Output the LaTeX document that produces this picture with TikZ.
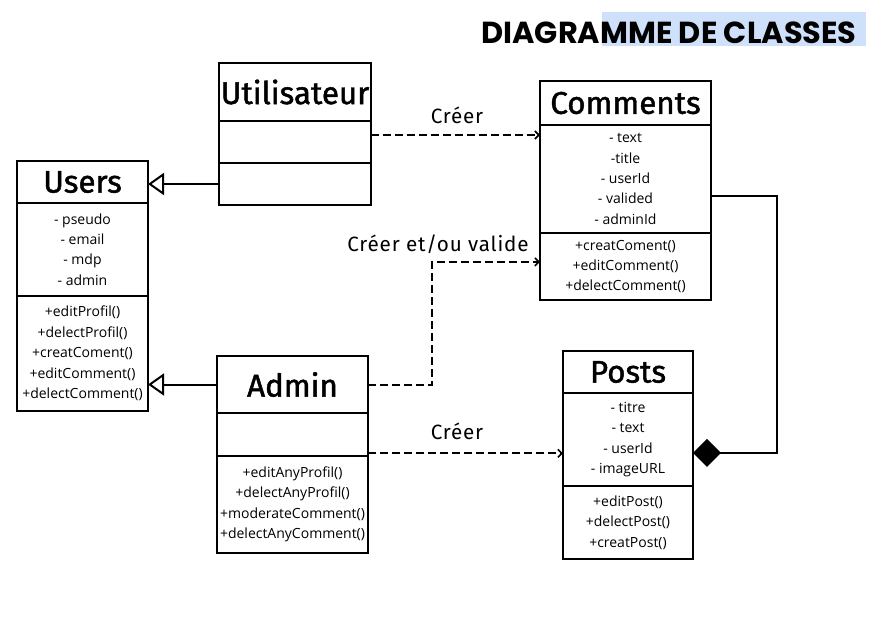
\documentclass[tikz,border=0pt]{standalone}
\usepackage{fontspec}
\setmainfont{Open Sans}
\newfontfamily\clsfont[FakeBold=1.5]{Fira Sans}
\newfontfamily\lblfont[LetterSpace=4]{Fira Sans}
\newfontfamily\titlefont{Poppins}
\usetikzlibrary{arrows.meta,calc}
\definecolor{hl}{RGB}{207,224,251}
\def\pxu{0.75pt}
\tikzset{
  box/.style={draw, line width=1.5pt, rectangle, inner sep=0pt, outer sep=0pt, align=center},
  hdr/.style={box, font=\clsfont\fontsize{23.5}{25}\selectfont},
  cmp/.style={box, font=\fontsize{10.5}{15.3}\selectfont},
  inh/.style={line width=1.5pt, -{Triangle[open, length=12pt, width=16.5pt, line width=1.5pt]}},
  dep/.style={line width=1.5pt, dash pattern=on 6pt off 3pt, -{Straight Barb[length=3pt, width=6pt, line width=1.2pt]}},
  comp/.style={line width=1.5pt, -{Diamond[length=21pt, width=21pt]}},
  lbl/.style={font=\lblfont\fontsize{15.5}{17}\selectfont, inner sep=0pt}
}
\begin{document}
\begin{tikzpicture}[x=0.75pt, y=-0.75pt]
\useasboundingbox (0,0) rectangle (875,617);
% title
\fill[hl] (602,12) rectangle (866,46);
\node[font=\titlefont\bfseries\fontsize{22.8}{25}\selectfont, inner sep=0pt] (title) at (669,33) {DIAGRAMME DE CLASSES};
% Utilisateur
\node[hdr, minimum width=152*\pxu, minimum height=58*\pxu, anchor=north west] (utilH) at (219,63) {Utilisateur};
\node[cmp, minimum width=152*\pxu, minimum height=42*\pxu, anchor=north] (utilA) at (utilH.south) {};
\node[cmp, minimum width=152*\pxu, minimum height=42*\pxu, anchor=north] (utilM) at (utilA.south) {};
% Users
\node[hdr, minimum width=131*\pxu, minimum height=42*\pxu, anchor=north west] (usersH) at (17,161) {Users};
\node[cmp, minimum width=131*\pxu, minimum height=93*\pxu, anchor=north] (usersA) at (usersH.south) {- pseudo\\- email\\- mdp\\- admin};
\node[cmp, minimum width=131*\pxu, minimum height=115*\pxu, anchor=north] (usersM) at (usersA.south) {+editProfil()\\+delectProfil()\\+creatComent()\\+editComment()\\+delectComment()};
% Comments
\node[hdr, minimum width=171*\pxu, minimum height=44*\pxu, anchor=north west] (comH) at (540,81) {Comments};
\node[cmp, minimum width=171*\pxu, minimum height=108*\pxu, anchor=north] (comA) at (comH.south) {- text\\-title\\- userId\\- valided\\- adminId};
\node[cmp, minimum width=171*\pxu, minimum height=67*\pxu, anchor=north] (comM) at (comA.south) {+creatComent()\\+editComment()\\+delectComment()};
% Admin
\node[hdr, minimum width=151*\pxu, minimum height=57*\pxu, anchor=north west] (admH) at (217,356) {Admin};
\node[cmp, minimum width=151*\pxu, minimum height=43*\pxu, anchor=north] (admA) at (admH.south) {};
\node[cmp, minimum width=151*\pxu, minimum height=97*\pxu, anchor=north] (admM) at (admA.south) {+editAnyProfil()\\+delectAnyProfil()\\+moderateComment()\\+delectAnyComment()};
% Posts
\node[hdr, minimum width=130*\pxu, minimum height=42*\pxu, anchor=north west] (postH) at (563,351) {Posts};
\node[cmp, minimum width=130*\pxu, minimum height=93*\pxu, anchor=north] (postA) at (postH.south) {- titre\\- text\\- userId\\- imageURL};
\node[cmp, minimum width=130*\pxu, minimum height=73*\pxu, anchor=north] (postM) at (postA.south) {+editPost()\\+delectPost()\\+creatPost()};
% inheritance
\draw[inh] (utilM.west) -- (utilM.west -| usersH.east);
\draw[inh] (admH.west) -- (admH.west -| usersM.east);
% dependencies
\coordinate (s1) at ([yshift=5.25pt]utilA.east);
\draw[dep] (s1) -- (s1 -| comA.west);
\coordinate (e2) at ([yshift=3.4pt]comM.west);
\draw[dep] (admH.east) -- ++(48pt,0) |- (e2);
\coordinate (s3) at ([yshift=2pt]admA.south east);
\draw[dep] (s3) -- (s3 -| postA.west);
% labels
\node[lbl] (l1) at (457,115) {Créer};
\node[lbl] (l2) at (438,244) {Créer et/ou valide};
\node[lbl] (l3) at (457,431) {Créer};
% composition
\coordinate (s4) at ([yshift=-12.75pt]comA.east);
\coordinate (e4) at ([yshift=-10.1pt]postA.east);
\draw[comp] (s4) -- ++(49.5pt,0) |- (e4);
\end{tikzpicture}
\end{document}
